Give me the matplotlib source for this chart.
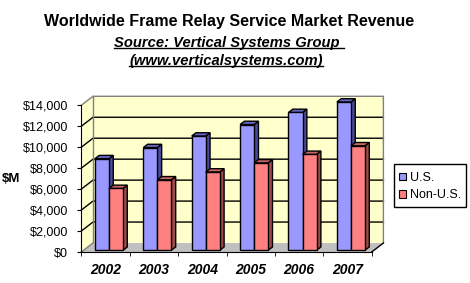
import matplotlib
matplotlib.use("Agg")
import matplotlib.pyplot as plt
from matplotlib.patches import Polygon, Patch, Rectangle
from matplotlib.lines import Line2D

years = ["2002", "2003", "2004", "2005", "2006", "2007"]
us = [8740, 9800, 10900, 12000, 13150, 14150]
non_us = [5900, 6720, 7470, 8340, 9150, 9970]
series_names = ["U.S.", "Non-U.S."]
yticks = [0, 2000, 4000, 6000, 8000, 10000, 12000, 14000]

plt.rcParams['font.family'] = ['Liberation Sans', 'DejaVu Sans']

fig = plt.figure(figsize=(4.7, 2.83), dpi=100)
ax = fig.add_axes([81.3 / 470, 1 - 252 / 283, 290.4 / 470, 146.7 / 283])
ax.set_xlim(0, len(years))
ax.set_ylim(0, yticks[-1])
ax.patch.set_visible(False)

# depth of the 3d box, in data units (about 11.7 px right, 9 px up)
DX = 11.7 / 48.4
DY = 9 * yticks[-1] / 146.7


def P(x, y, d):
    return (x + d * DX, y + d * DY)


def poly(pts, **kw):
    ax.add_patch(Polygon(pts, closed=True, clip_on=False, **kw))


def line(pts, **kw):
    xs, ys = zip(*pts)
    ax.add_line(Line2D(xs, ys, clip_on=False, **kw))


n = len(years)
wall = "#FFFFCC"
top = yticks[-1]

# back wall, side wall, floor
poly([P(0, 0, 1), P(n, 0, 1), P(n, top, 1), P(0, top, 1)], fc=wall, ec="none", zorder=0)
poly([P(0, 0, 0), P(0, 0, 1), P(0, top, 1), P(0, top, 0)], fc=wall, ec="none", zorder=0)
for v in yticks[1:-1]:
    line([P(0, v, 0), P(0, v, 1), P(n, v, 1)], color="black", lw=1, zorder=1)
line([P(0, top, 0), P(0, top, 1), P(n, top, 1), P(n, 0, 1)], color="#808080", lw=1, zorder=1)
line([P(0, 0, 1), P(0, top, 1)], color="#808080", lw=1, zorder=1)
poly([P(0, 0, 0), P(n, 0, 0), P(n, 0, 1), P(0, 0, 1)], fc="#C0C0C0", ec="none", zorder=1)
line([P(n, 0, 0), P(n, 0, 1)], color="black", lw=1, zorder=1)
line([P(0, 0, 0), P(0, 0, 1)], color="#808080", lw=1, zorder=1)

# bars
d0, d1 = 0.19, 0.56
w = 0.29
styles = [("#9999FF", "#6464C0", "#4A4A9C"), ("#FF8080", "#C86464", "#9C4A4A")]
z = 2
for i in range(n):
    for k, vals in enumerate([us, non_us]):
        v = vals[i]
        x0 = i + 0.235 + k * w
        x1 = x0 + w
        front, topc, side = styles[k]
        poly([P(x1, 0, d0), P(x1, v, d0), P(x1, v, d1), P(x1, 0, d1)],
             fc=side, ec="black", lw=1, zorder=z)
        poly([P(x0, v, d0), P(x1, v, d0), P(x1, v, d1), P(x0, v, d1)],
             fc=topc, ec="black", lw=1, zorder=z)
        ax.bar(x0 + d0 * DX, v, width=w, bottom=d0 * DY, align="edge",
               color=front, edgecolor="black", lw=1, zorder=z + 0.5, clip_on=False)
        z += 1

# axes
for s in ["top", "right"]:
    ax.spines[s].set_visible(False)
ax.spines["left"].set_zorder(50)
ax.spines["bottom"].set_zorder(50)
ax.set_yticks(yticks)
ax.set_yticklabels(["$" + format(v, ",") for v in yticks], fontsize=9)
ax.tick_params(axis="y", direction="out", length=3, pad=6.5, color="black")
ax.set_xticks([i + 0.5 for i in range(n)])
ax.set_xticklabels(years, fontsize=10, fontweight="bold", fontstyle="italic")
ax.set_xticks(range(n + 1), minor=True)
ax.tick_params(axis="x", which="major", length=0, pad=8)
ax.tick_params(axis="x", which="minor", direction="out", length=3, color="black")

fig.text(11 / 470, 1 - 179 / 283, "$M", fontsize=9.5, fontweight="bold", ha="center", va="center")

# titles
fig.text(229 / 470, 1 - 21.7 / 283, "Worldwide Frame Relay Service Market Revenue",
         fontsize=11.5, fontweight="bold", ha="center", va="center")
sub1 = fig.text(229 / 470, 1 - 43 / 283, "Source: Vertical Systems Group ",
                fontsize=10.6, fontweight="bold", fontstyle="italic", ha="center", va="center")
sub2 = fig.text(226 / 470, 1 - 61 / 283, "(www.verticalsystems.com)",
                fontsize=10.6, fontweight="bold", fontstyle="italic", ha="center", va="center")

fig.canvas.draw()
r = fig.canvas.get_renderer()
inv = fig.transFigure.inverted()
for t in [sub1, sub2]:
    bb = t.get_window_extent(r)
    (a, b), (c, d) = inv.transform([(bb.x0, bb.y0 + 2.5), (bb.x1, bb.y0 + 2.5)])
    fig.add_artist(Line2D([a, c], [b, d], color="black", lw=1))

# legend: entries placed by the legend, frame drawn as its own box
handles = [Patch(fc=styles[0][0], ec="black", lw=0.8), Patch(fc=styles[1][0], ec="black", lw=0.8)]
fig.legend(handles, series_names, loc="center",
           bbox_to_anchor=(430 / 470, 1 - 186.5 / 283), fontsize=9, frameon=False,
           handlelength=0.55, handleheight=0.55, handletextpad=0.32,
           labelspacing=0.45, borderpad=0, borderaxespad=0)
fig.add_artist(Rectangle((394 / 470, 1 - 207 / 283), 72 / 470, 43 / 283,
                         transform=fig.transFigure, fill=False, ec="black", lw=1))

fig.savefig("out.png", dpi=100)
